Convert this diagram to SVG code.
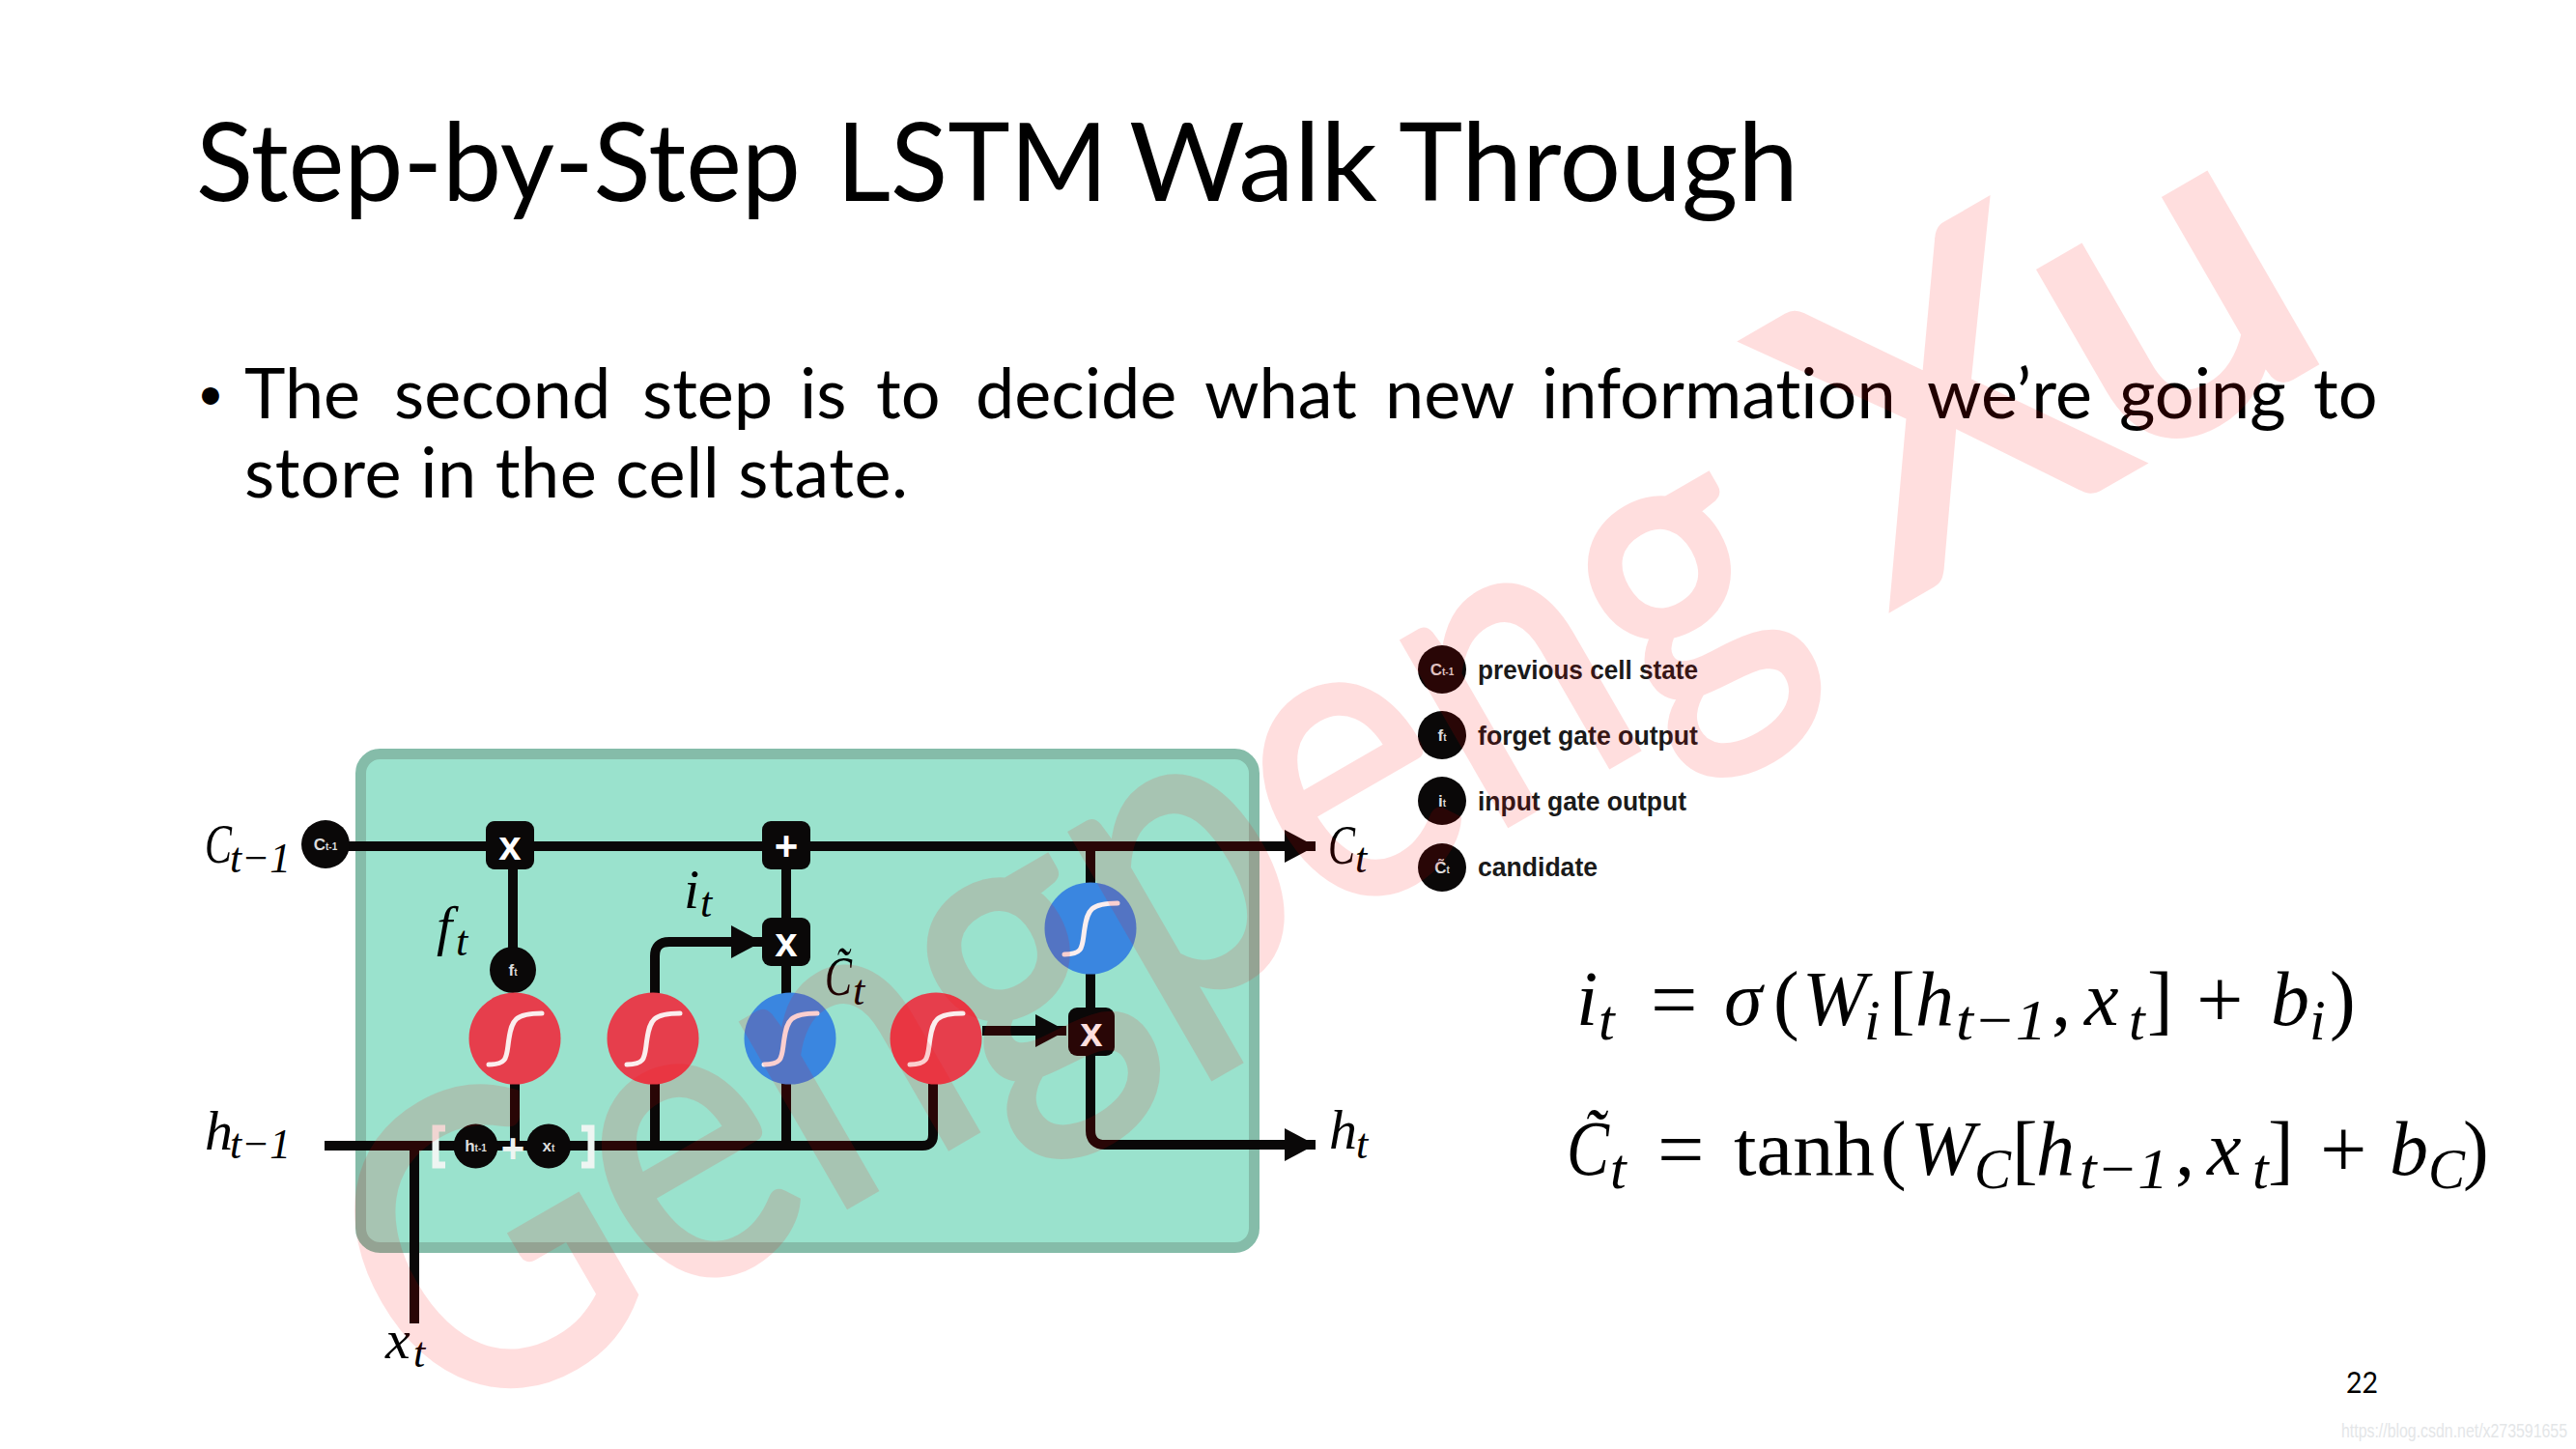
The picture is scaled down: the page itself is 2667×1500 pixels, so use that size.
<svg xmlns="http://www.w3.org/2000/svg" width="2667" height="1500" viewBox="0 0 2667 1500">
<defs>
<style>
text{font-family:"Lato","Liberation Sans",sans-serif;fill:#000;font-variant-ligatures:none}
.m{font-family:"Liberation Serif",serif;font-style:italic;font-size:80px}
.mr{font-family:"Liberation Serif",serif;font-size:80px}
.o{font-family:"Liberation Serif",serif;font-size:86px}
.s{font-family:"Liberation Serif",serif;font-style:italic;font-size:60px}
.l{font-family:"Liberation Serif",serif;font-style:italic;font-size:58px}
.ls{font-family:"Liberation Serif",serif;font-style:italic;font-size:44px}
.tiny{font-family:"Liberation Sans",sans-serif;font-weight:bold;font-size:17px;fill:#ddd;text-anchor:middle}
.tiny tspan{font-size:10px}
.op{font-family:"Liberation Sans",sans-serif;font-weight:bold;font-size:42px;fill:#fff;text-anchor:middle}
.leg{font-family:"Liberation Sans",sans-serif;font-weight:bold;font-size:28px;fill:#1a1a1a}
.w{fill:none;stroke:#0a0808;stroke-width:10;stroke-linejoin:round}
.sig{fill:none;stroke:#fbeeee;stroke-width:5;stroke-linecap:round}
.red{fill:#e63e4c}.blue{fill:#3a86e0}.dot{fill:#0a0808}.box{fill:#0a0808}
.br{fill:none;stroke:#eef5f2;stroke-width:7}
.wm{font-size:430px;opacity:.125;fill:#f00;stroke:#f00;stroke-linejoin:miter}
</style>
<marker id="ah" markerUnits="userSpaceOnUse" markerWidth="34" markerHeight="34" refX="32" refY="17" orient="auto"><path d="M0 0L32 17L0 34Z" fill="#0a0808"/></marker>
<path id="sg" class="sig" d="M-27 27C-6 27-9 18-6 0C-3-19 0-26 28-26"/>
</defs>
<rect width="2667" height="1500" fill="#fff"/>
<g id="title" font-size="112">
<text x="203" y="208" textLength="626" lengthAdjust="spacingAndGlyphs">Step-by-Step</text>
<text x="866" y="208" textLength="281" lengthAdjust="spacingAndGlyphs">LSTM</text>
<text x="1169" y="208" textLength="257" lengthAdjust="spacingAndGlyphs">Walk</text>
<text x="1448" y="208" textLength="414" lengthAdjust="spacingAndGlyphs">Through</text>
</g>
<g id="bullet" font-size="72">
<text x="204" y="424" font-size="48">•</text>
<text y="433"><tspan x="253">The</tspan><tspan x="408">second</tspan><tspan x="665">step</tspan><tspan x="828">is</tspan><tspan x="907">to</tspan><tspan x="1010">decide</tspan><tspan x="1247">what</tspan><tspan x="1434">new</tspan><tspan x="1596">information</tspan><tspan x="1995">we’re</tspan><tspan x="2194">going</tspan><tspan x="2395">to</tspan></text>
<text x="253" y="515" textLength="687">store in the cell state.</text>
</g>
<g id="cell"><rect x="373.500" y="780.500" width="925" height="511" rx="20" fill="#9ae2cd" stroke="#85bca9" stroke-width="11"/></g>
<g id="connectors">
<path class="w" d="M337 876H1362" marker-end="url(#ah)"/>
<path class="w" d="M531 876V1004"/>
<path class="w" d="M533 1075V1186"/>
<path class="w" d="M336 1186H955Q966 1186 966 1175V1075"/>
<path class="w" d="M429 1186V1370"/>
<path class="w" d="M678 1186V990Q678 975 693 975H789" marker-end="url(#ah)"/>
<path class="w" d="M814 876V1186"/>
<path class="w" d="M1017 1067H1104" marker-end="url(#ah)"/>
<path class="w" d="M1129 876V1170Q1129 1185 1144 1185H1362" marker-end="url(#ah)"/>
</g>
<g id="c-prev"><circle class="dot" cx="337" cy="874" r="25"/><text class="tiny" x="337" y="880">C<tspan>t-1</tspan></text></g>
<g id="forget-mul"><rect class="box" x="503" y="850" width="50" height="50" rx="9"/><text class="op" x="528" y="890">x</text></g>
<g id="add"><rect class="box" x="789" y="850" width="50" height="50" rx="9"/><text class="op" x="814" y="890">+</text></g>
<g id="input-mul"><rect class="box" x="789" y="950" width="50" height="50" rx="9"/><text class="op" x="814" y="990">x</text></g>
<g id="output-mul"><rect class="box" x="1106" y="1043" width="48" height="50" rx="9"/><text class="op" x="1130" y="1083">x</text></g>
<g id="f-dot"><circle class="dot" cx="531" cy="1004" r="24"/><text class="tiny" x="531" y="1010">f<tspan>t</tspan></text></g>
<g id="sig-forget"><circle class="red" cx="533" cy="1075" r="47.500"/><use href="#sg" x="533" y="1075"/></g>
<g id="sig-input"><circle class="red" cx="676" cy="1075" r="47.500"/><use href="#sg" x="676" y="1075"/></g>
<g id="tanh-candidate"><circle class="blue" cx="818" cy="1075" r="47.500"/><use href="#sg" x="818" y="1075"/></g>
<g id="sig-output"><circle class="red" cx="969" cy="1075" r="47.500"/><use href="#sg" x="969" y="1075"/></g>
<g id="tanh-output"><circle class="blue" cx="1129" cy="961" r="47.500"/><use href="#sg" x="1129" y="961"/></g>
<g id="concat">
<path class="br" d="M461 1168H451V1206H461M602 1168H612V1206H602"/>
<circle class="dot" cx="492.500" cy="1186.500" r="23"/><text class="tiny" x="492.500" y="1192">h<tspan>t-1</tspan></text>
<circle class="dot" cx="568" cy="1186.500" r="23"/><text class="tiny" x="568" y="1192">x<tspan>t</tspan></text>
<text class="op" x="531" y="1203" style="fill:#eef5f2">+</text>
</g>
<g id="labels">
<text class="l" x="212" y="893" textLength="28" lengthAdjust="spacingAndGlyphs">C</text><text class="ls" x="238" y="903" textLength="63" lengthAdjust="spacingAndGlyphs">t−1</text>
<text class="l" x="212" y="1190">h</text><text class="ls" x="238" y="1199" textLength="63" lengthAdjust="spacingAndGlyphs">t−1</text>
<text class="l" x="452" y="978">f</text><text class="ls" x="472" y="989">t</text>
<text class="l" x="708" y="940">i</text><text class="ls" x="725" y="949">t</text>
<text class="l" x="399" y="1406">x</text><text class="ls" x="428" y="1415">t</text>
<text class="l" x="854" y="1030" textLength="28" lengthAdjust="spacingAndGlyphs">C̃</text><text class="ls" x="883" y="1040">t</text>
<text class="l" x="1375" y="894" textLength="28" lengthAdjust="spacingAndGlyphs">C</text><text class="ls" x="1403" y="903">t</text>
<text class="l" x="1376" y="1189">h</text><text class="ls" x="1404" y="1199">t</text>
</g>
<g id="legend-c"><circle class="dot" cx="1493" cy="693" r="25"/><text class="tiny" x="1493" y="699">C<tspan>t-1</tspan></text><text class="leg" x="1530" y="703" textLength="228" lengthAdjust="spacingAndGlyphs">previous cell state</text></g>
<g id="legend-f"><circle class="dot" cx="1493" cy="761" r="25"/><text class="tiny" x="1493" y="767">f<tspan>t</tspan></text><text class="leg" x="1530" y="771" textLength="228" lengthAdjust="spacingAndGlyphs">forget gate output</text></g>
<g id="legend-i"><circle class="dot" cx="1493" cy="829" r="25"/><text class="tiny" x="1493" y="835">i<tspan>t</tspan></text><text class="leg" x="1530" y="839" textLength="216" lengthAdjust="spacingAndGlyphs">input gate output</text></g>
<g id="legend-cand"><circle class="dot" cx="1493" cy="898" r="25"/><text class="tiny" x="1493" y="904">C̃<tspan>t</tspan></text><text class="leg" x="1530" y="907" textLength="124" lengthAdjust="spacingAndGlyphs">candidate</text></g>
<g id="eq1">
<text class="m" x="1632" y="1061">i</text><text class="s" x="1655" y="1076">t</text>
<text class="o" x="1709" y="1064">=</text><text class="m" x="1785" y="1061">σ</text><text class="mr" x="1836" y="1061">(</text>
<text class="m" x="1866" y="1061">W</text><text class="s" x="1930" y="1076">i</text><text class="mr" x="1956" y="1061">[</text>
<text class="m" x="1983" y="1061">h</text><text class="s" x="2025" y="1076" textLength="94" lengthAdjust="spacingAndGlyphs">t−1</text><text class="mr" x="2124" y="1061">,</text>
<text class="m" x="2158" y="1061">x</text><text class="s" x="2204" y="1076">t</text><text class="mr" x="2223" y="1061">]</text>
<text class="o" x="2274" y="1064">+</text><text class="m" x="2351" y="1061">b</text><text class="s" x="2391" y="1076">i</text><text class="mr" x="2412" y="1061">)</text>
</g>
<g id="eq2">
<text class="m" x="1622" y="1216" textLength="44" lengthAdjust="spacingAndGlyphs">C̃</text><text class="s" x="1667" y="1230">t</text>
<text class="o" x="1716" y="1219">=</text><text class="mr" x="1795" y="1216" textLength="146" lengthAdjust="spacingAndGlyphs">tanh</text><text class="mr" x="1947" y="1216">(</text>
<text class="m" x="1978" y="1216">W</text><text class="s" x="2044" y="1230" textLength="38" lengthAdjust="spacingAndGlyphs">C</text><text class="mr" x="2083" y="1216">[</text>
<text class="m" x="2108" y="1216">h</text><text class="s" x="2153" y="1230" textLength="92" lengthAdjust="spacingAndGlyphs">t−1</text><text class="mr" x="2252" y="1216">,</text>
<text class="m" x="2285" y="1216">x</text><text class="s" x="2332" y="1230">t</text><text class="mr" x="2348" y="1216">]</text>
<text class="o" x="2402" y="1219">+</text><text class="m" x="2474" y="1216">b</text><text class="s" x="2514" y="1230" textLength="38" lengthAdjust="spacingAndGlyphs">C</text><text class="mr" x="2550" y="1216">)</text>
</g>
<text x="2429" y="1442" font-size="30" textLength="33" lengthAdjust="spacingAndGlyphs">22</text>
<text x="2424" y="1488" font-size="20" textLength="234" lengthAdjust="spacingAndGlyphs" style="fill:#e4e6e8;font-family:'Liberation Sans',sans-serif">https://blog.csdn.net/x273591655</text>
<g id="watermark">
<text class="wm" transform="translate(460 1489) rotate(-30)" textLength="1640" lengthAdjust="spacingAndGlyphs" stroke-width="7">Gengpeng</text>
<text class="wm" transform="translate(1960 624) rotate(-30)" textLength="530" lengthAdjust="spacingAndGlyphs" stroke-width="14">Xu</text>
</g>
</svg>
